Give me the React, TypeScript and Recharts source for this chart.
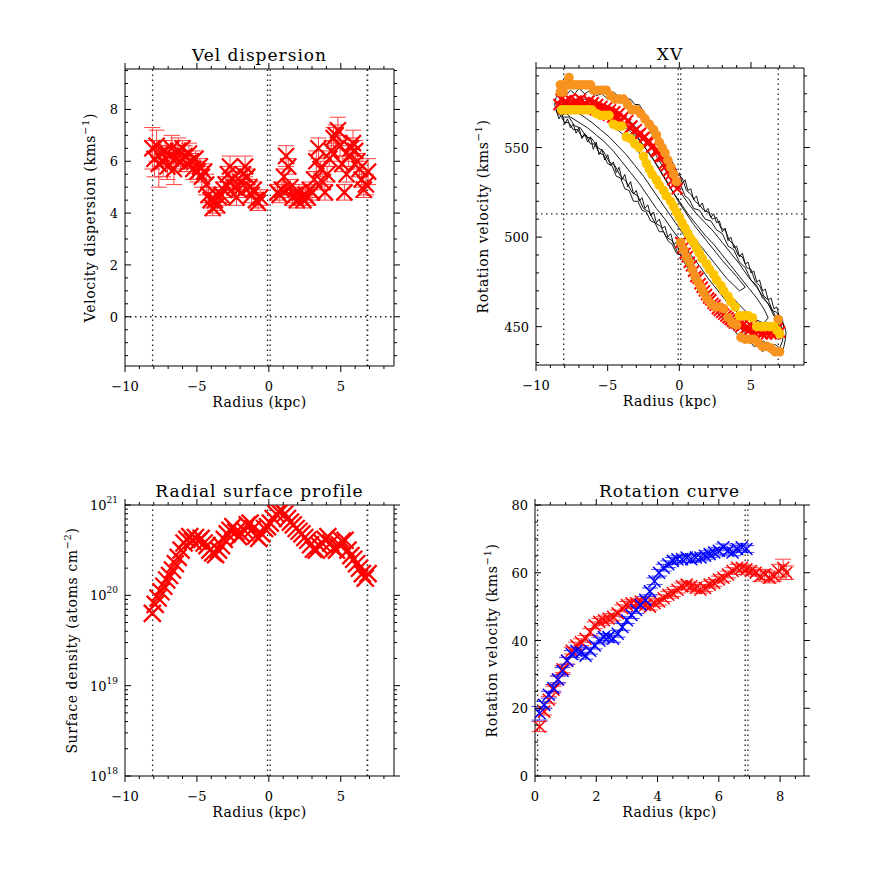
import React from 'react'
import { ScatterChart, Scatter, XAxis, YAxis, ReferenceLine, ErrorBar } from 'recharts'

const SERIF = '"DejaVu Serif", "Liberation Serif", serif'
const RED = '#ff0000'
const BLUE = '#0000ff'
const ORANGE = '#f7931e'
const YELLOW = '#ffc400'

// space around each plot box for axes / labels
const LW = 100
const RW = 30
const TH = 45
const BH = 60

// ---------- Vel dispersion ----------
const dispRadius = [
  -8.1, -7.95, -7.8, -7.65, -7.5, -7.35, -7.2, -7.05, -6.9, -6.75, -6.6, -6.45, -6.3, -6.15, -6.0, -5.85, -5.7,
  -5.55, -5.4, -5.25, -5.1, -4.95, -4.8, -4.65, -4.5, -4.35, -4.2, -4.05, -3.9, -3.75, -3.6, -3.45, -3.3, -3.15,
  -3.0, -2.85, -2.7, -2.55, -2.4, -2.25, -2.1, -1.95, -1.8, -1.65, -1.5, -1.35, -1.2, -1.05, -0.9, -0.75, -0.6,
  0.6, 0.75, 0.9, 1.05, 1.2, 1.35, 1.5, 1.65, 1.8, 1.95, 2.1, 2.25, 2.4, 2.55, 2.7, 2.85, 3.0, 3.15, 3.3, 3.45,
  3.6, 3.75, 3.9, 4.05, 4.2, 4.35, 4.5, 4.65, 4.8, 4.95, 5.1, 5.25, 5.4, 5.55, 5.7, 5.85, 6.0, 6.15, 6.3, 6.45,
  6.6, 6.75, 6.9,
]
const dispValue = [
  6.5, 6.1, 6.6, 5.9, 6.3, 6.0, 6.4, 5.8, 6.2, 6.5, 5.7, 6.1, 6.4, 6.0, 6.5, 6.2, 5.9, 6.3, 6.0, 5.7, 6.1, 5.6,
  5.8, 5.4, 5.6, 5.1, 4.7, 4.5, 4.2, 4.5, 4.3, 4.6, 4.7, 4.9, 5.1, 5.5, 5.8, 5.3, 5.0, 4.6, 4.9, 5.2, 5.5, 5.8,
  5.4, 5.0, 4.7, 4.9, 4.5, 4.4, 4.6,
  4.8, 4.7, 4.9, 5.4, 6.2, 5.8, 5.0, 4.6, 4.7, 4.5, 4.8, 4.6, 4.5, 4.7, 4.6, 4.9, 4.8, 5.3, 6.0, 6.5, 5.7, 5.2,
  4.8, 5.5, 6.1, 6.4, 6.9, 7.0, 7.2, 6.6, 5.9, 4.8, 5.5, 6.2, 6.5, 6.7, 6.4, 6.0, 5.7, 5.3, 4.9, 5.1, 5.6,
]
const dispErr = [
  0.8, 0.7, 0.6, 0.9, 0.5, 0.6, 0.4, 0.5, 0.4, 0.5, 0.6, 0.4, 0.5, 0.4, 0.3, 0.4, 0.3, 0.4, 0.3, 0.4, 0.3, 0.4,
  0.3, 0.4, 0.3, 0.4, 0.3, 0.3, 0.3, 0.4, 0.3, 0.3, 0.3, 0.3, 0.3, 0.3, 0.4, 0.3, 0.3, 0.3, 0.3, 0.3, 0.3, 0.4,
  0.3, 0.3, 0.3, 0.3, 0.3, 0.3, 0.3,
  0.3, 0.3, 0.3, 0.3, 0.4, 0.3, 0.3, 0.3, 0.3, 0.3, 0.3, 0.3, 0.3, 0.3, 0.3, 0.3, 0.3, 0.3, 0.4, 0.4, 0.3, 0.3,
  0.3, 0.3, 0.3, 0.4, 0.4, 0.4, 0.5, 0.4, 0.3, 0.3, 0.3, 0.4, 0.4, 0.5, 0.4, 0.3, 0.3, 0.3, 0.3, 0.4, 0.5,
]

// ---------- XV diagram ----------
const xvRedRadius = [
  -8.4, -8.25, -8.1, -7.95, -7.8, -7.65, -7.5, -7.35, -7.2, -7.05, -6.9, -6.75, -6.6, -6.45, -6.3, -6.15, -6.0,
  -5.85, -5.7, -5.55, -5.4, -5.25, -5.1, -4.95, -4.8, -4.65, -4.5, -4.35, -4.2, -4.05, -3.9, -3.75, -3.6, -3.45,
  -3.3, -3.15, -3.0, -2.85, -2.7, -2.55, -2.4, -2.25, -2.1, -1.95, -1.8, -1.65, -1.5, -1.35, -1.2, -1.05, -0.9,
  -0.75, -0.6, -0.45, -0.3, -0.15,
  0.1, 0.25, 0.4, 0.55, 0.7, 0.85, 1.0, 1.15, 1.3, 1.45, 1.6, 1.75, 1.9, 2.05, 2.2, 2.35, 2.5, 2.65, 2.8, 2.95,
  3.1, 3.25, 3.4, 3.55, 3.7, 3.85, 4.0, 4.15, 4.3, 4.45, 4.6, 4.75, 4.9, 5.05, 5.2, 5.35, 5.5, 5.65, 5.8, 5.95,
  6.1, 6.25, 6.4, 6.55, 6.7, 6.85, 7.0,
]
const xvRedVel = [
  574, 577, 572, 576, 573, 577, 574, 572, 576, 574, 577, 573, 575, 572, 576, 573, 575, 571, 574, 571, 573, 569,
  572, 568, 571, 567, 570, 566, 569, 565, 567, 563, 565, 561, 562, 559, 560, 557, 558, 555, 556, 553, 553, 550,
  551, 548, 548, 545, 545, 541, 540, 537, 535, 532, 530, 527,
  497, 494, 491, 489, 486, 484, 481, 478, 477, 474, 472, 470, 468, 466, 465, 463, 462, 460, 459, 458, 457, 456,
  455, 454, 453, 452, 452, 451, 450, 451, 449, 450, 448, 450, 447, 449, 447, 449, 446, 448, 446, 448, 446, 448,
  446, 449, 447,
]
const xvOrange: [number, number][] = [
  [-7.7, 589], [-8.3, 585], [-8.0, 585], [-7.7, 585], [-7.4, 585], [-7.1, 585], [-6.8, 585], [-6.5, 585],
  [-6.2, 585], [-8.3, 581], [-8.1, 581], [-6.0, 582], [-5.7, 582], [-5.4, 582], [-5.1, 582], [-4.8, 579],
  [-4.5, 577], [-4.2, 577], [-3.9, 577], [-3.6, 574], [-3.3, 571], [-3.0, 571], [-2.7, 569], [-2.4, 566],
  [-2.1, 563], [-1.8, 560], [-1.6, 557], [-1.4, 553], [-1.2, 550], [-1.0, 547], [-0.8, 543], [-0.6, 539],
  [-0.4, 535], [-0.2, 531],
  [0.1, 497], [0.3, 493], [0.5, 489], [0.7, 486], [0.9, 482], [1.1, 478], [1.3, 475], [1.5, 472], [1.7, 469],
  [1.9, 466], [2.2, 463], [2.5, 461], [2.8, 461], [3.1, 460], [3.4, 455], [3.7, 452], [4.0, 451], [4.3, 444],
  [4.6, 443], [4.9, 443], [5.2, 443], [5.5, 441], [5.8, 439], [6.1, 439], [6.4, 438], [6.7, 436], [7.0, 436],
  [6.9, 454],
]
const xvYellow: [number, number][] = [
  [-8.2, 571], [-7.9, 571], [-7.6, 571], [-7.3, 571], [-7.0, 571], [-6.7, 571], [-6.4, 571], [-6.1, 571],
  [-5.8, 569], [-5.5, 568], [-5.2, 568], [-4.9, 568], [-4.6, 563], [-4.3, 562], [-4.0, 562], [-3.7, 556],
  [-3.4, 555], [-3.1, 552], [-2.8, 550], [-2.5, 545], [-2.3, 541], [-2.1, 538], [-1.9, 535], [-1.6, 532],
  [-1.4, 529], [-1.1, 526], [-0.9, 523], [-0.6, 520], [-0.4, 517], [-0.2, 514], [0.0, 511], [0.2, 508],
  [0.4, 505], [0.6, 502], [0.8, 499], [1.0, 497], [1.2, 494], [1.4, 491], [1.6, 488], [1.9, 485], [2.1, 482],
  [2.4, 479], [2.6, 476], [2.9, 473], [3.1, 470], [3.4, 467], [3.6, 464], [3.9, 461], [4.2, 456], [4.5, 456],
  [4.8, 456], [5.1, 455], [5.4, 450], [5.7, 450], [6.0, 450], [6.3, 450], [6.6, 450], [6.8, 448], [7.0, 446],
]
const contourA: [number, number][] = [
  [-8.7, 574], [-8.6, 578], [-8.4, 580], [-8.2, 582], [-8.0, 583], [-7.8, 586], [-7.6, 584], [-7.4, 587],
  [-7.2, 585], [-7.0, 586], [-6.7, 583], [-6.4, 585], [-6.1, 582], [-5.8, 584], [-5.5, 581], [-5.2, 583],
  [-4.9, 580], [-4.6, 581], [-4.3, 579], [-4.0, 579], [-3.7, 577], [-3.4, 577], [-3.1, 574], [-2.8, 574],
  [-2.5, 570], [-2.2, 567], [-1.9, 561], [-1.6, 560], [-1.3, 553], [-1.0, 551], [-0.7, 544], [-0.4, 541],
  [-0.1, 535], [0.2, 533], [0.5, 526], [0.8, 524], [1.1, 520], [1.4, 518], [1.7, 515], [2.0, 514], [2.3, 510],
  [2.6, 511], [2.9, 505], [3.2, 504], [3.5, 498], [3.8, 496], [4.1, 490], [4.4, 489], [4.7, 483], [5.0, 482],
  [5.3, 475], [5.6, 473], [5.9, 467], [6.2, 465], [6.5, 459], [6.8, 458], [7.1, 453], [7.3, 451], [7.45, 447],
  [7.4, 443], [7.3, 439], [7.2, 436], [7.0, 434], [6.7, 437], [6.4, 435], [6.1, 438], [5.8, 436], [5.5, 439],
  [5.2, 439], [4.9, 442], [4.6, 442], [4.3, 445], [4.0, 446], [3.7, 450], [3.4, 450], [3.1, 455], [2.8, 456],
  [2.5, 461], [2.2, 461], [1.9, 467], [1.6, 468], [1.3, 474], [1.0, 476], [0.7, 482], [0.4, 485], [0.1, 490],
  [-0.2, 491], [-0.5, 496], [-0.8, 498], [-1.1, 503], [-1.4, 503], [-1.7, 508], [-2.0, 509], [-2.3, 514],
  [-2.6, 515], [-2.9, 520], [-3.2, 520], [-3.5, 526], [-3.8, 527], [-4.1, 533], [-4.4, 534], [-4.7, 540],
  [-5.0, 541], [-5.3, 546], [-5.6, 547], [-5.9, 552], [-6.2, 552], [-6.5, 557], [-6.8, 556], [-7.1, 560],
  [-7.4, 560], [-7.7, 564], [-8.0, 564], [-8.3, 568], [-8.5, 569], [-8.7, 574],
]
const contourB: [number, number][] = [
  [-8.5, 573], [-8.2, 578], [-7.9, 579], [-7.6, 582], [-7.3, 580], [-7.0, 583], [-6.6, 580], [-6.2, 582],
  [-5.8, 579], [-5.4, 580], [-5.0, 577], [-4.6, 578], [-4.2, 575], [-3.8, 575], [-3.4, 571], [-3.0, 571],
  [-2.6, 566], [-2.3, 564], [-2.0, 558], [-1.7, 556], [-1.4, 549], [-1.1, 547], [-0.8, 540], [-0.5, 538],
  [-0.2, 531], [0.1, 529], [0.4, 523], [0.7, 521], [1.0, 516], [1.4, 515], [1.8, 510], [2.2, 509], [2.6, 504],
  [3.0, 502], [3.4, 495], [3.8, 493], [4.2, 486], [4.6, 483], [5.0, 476], [5.4, 473], [5.8, 466], [6.2, 463],
  [6.6, 456], [7.0, 453], [7.25, 447], [7.2, 442], [7.0, 438], [6.7, 440], [6.3, 439], [5.9, 442], [5.5, 441],
  [5.1, 445], [4.7, 445], [4.3, 449], [3.9, 450], [3.5, 455], [3.1, 456], [2.7, 462], [2.3, 464], [1.9, 470],
  [1.5, 472], [1.1, 479], [0.7, 482], [0.3, 489], [-0.1, 491], [-0.5, 498], [-0.9, 500], [-1.3, 506],
  [-1.7, 508], [-2.1, 514], [-2.5, 516], [-2.9, 523], [-3.3, 525], [-3.7, 531], [-4.1, 534], [-4.5, 540],
  [-4.9, 542], [-5.3, 548], [-5.7, 550], [-6.1, 555], [-6.5, 556], [-6.9, 561], [-7.3, 562], [-7.7, 567],
  [-8.1, 567], [-8.5, 573],
]
const contourC: [number, number][] = [
  [-8.3, 572], [-7.8, 576], [-7.2, 577], [-6.5, 577], [-5.8, 575], [-5.0, 573], [-4.3, 570], [-3.6, 566],
  [-3.0, 561], [-2.4, 555], [-1.8, 548], [-1.2, 540], [-0.6, 533], [0.0, 526], [0.6, 519], [1.2, 513],
  [1.8, 508], [2.4, 503], [3.0, 497], [3.6, 491], [4.2, 485], [4.8, 478], [5.4, 472], [6.0, 465], [6.5, 459],
  [6.9, 453], [7.0, 448], [6.7, 445], [6.2, 446], [5.6, 448], [5.0, 451], [4.4, 455], [3.8, 460], [3.2, 465],
  [2.6, 471], [2.0, 477], [1.4, 484], [0.8, 490], [0.2, 497], [-0.4, 503], [-1.0, 510], [-1.6, 516],
  [-2.2, 523], [-2.8, 530], [-3.4, 536], [-4.0, 542], [-4.6, 548], [-5.2, 553], [-5.8, 557], [-6.4, 561],
  [-7.0, 564], [-7.6, 567], [-8.3, 572],
]
const contourD: [number, number][] = [
  [-7.6, 572], [-6.8, 573], [-6.0, 572], [-5.2, 570], [-4.4, 567], [-3.7, 563], [-3.0, 557], [-2.4, 550],
  [-1.8, 543], [-1.2, 535], [-0.6, 527], [0.0, 520], [0.6, 513], [1.2, 507], [1.8, 501], [2.4, 496],
  [3.0, 490], [3.6, 484], [4.2, 478], [4.8, 472], [5.4, 466], [5.9, 460], [6.2, 455], [5.9, 452], [5.3, 454],
  [4.7, 458], [4.1, 463], [3.5, 468], [2.9, 474], [2.3, 480], [1.7, 486], [1.1, 492], [0.5, 499], [-0.1, 506],
  [-0.7, 513], [-1.3, 520], [-1.9, 527], [-2.5, 534], [-3.1, 540], [-3.7, 546], [-4.3, 551], [-4.9, 556],
  [-5.5, 560], [-6.1, 564], [-6.8, 568], [-7.6, 572],
]
const contourE: [number, number][] = [
  [-5.0, 566], [-4.0, 563], [-3.0, 556], [-2.0, 546], [-1.0, 533], [0.0, 519], [1.0, 507], [2.0, 497],
  [3.0, 487], [4.0, 478], [4.6, 472], [4.2, 470], [3.3, 477], [2.4, 486], [1.4, 496], [0.4, 507], [-0.6, 520],
  [-1.6, 533], [-2.6, 545], [-3.6, 555], [-4.6, 562], [-5.0, 566],
]
// noisy outer edges (lower-left and upper-right)
const edgeLow: [number, number][] = [
  [-8.6, 571], [-8.4, 566], [-8.2, 569], [-8.0, 563], [-7.8, 566], [-7.6, 561], [-7.4, 563], [-7.2, 558],
  [-7.0, 561], [-6.8, 555], [-6.6, 558], [-6.4, 553], [-6.2, 556], [-6.0, 549], [-5.8, 553], [-5.6, 546],
  [-5.4, 549], [-5.2, 543], [-5.0, 546], [-4.8, 540], [-4.6, 542], [-4.4, 536], [-4.2, 539], [-4.0, 532],
  [-3.8, 535], [-3.6, 528], [-3.4, 531], [-3.2, 524], [-3.0, 526], [-2.8, 520], [-2.6, 522], [-2.4, 516],
  [-2.2, 518], [-2.0, 512], [-1.8, 514], [-1.6, 508], [-1.4, 510], [-1.2, 505], [-1.0, 506], [-0.8, 500],
  [-0.6, 502], [-0.4, 496], [-0.2, 497], [0.0, 492],
]
const edgeHigh: [number, number][] = [
  [0.0, 536], [0.2, 530], [0.4, 532], [0.6, 526], [0.8, 527], [1.0, 521], [1.2, 523], [1.4, 517], [1.6, 519],
  [1.8, 514], [2.0, 516], [2.2, 511], [2.4, 513], [2.6, 508], [2.8, 509], [3.0, 503], [3.2, 505], [3.4, 498],
  [3.6, 500], [3.8, 494], [4.0, 495], [4.2, 489], [4.4, 491], [4.6, 485], [4.8, 486], [5.0, 480], [5.2, 481],
  [5.4, 475], [5.6, 476], [5.8, 470], [6.0, 471], [6.2, 465], [6.4, 466], [6.6, 460], [6.8, 461], [7.0, 455],
  [7.2, 454], [7.3, 449],
]

// ---------- Radial surface profile (log10 atoms cm^-2) ----------
const profRadius = [
  -8.1, -7.9, -7.7, -7.5, -7.3, -7.1, -6.9, -6.7, -6.5, -6.3, -6.1, -5.9, -5.7, -5.5, -5.3, -5.1, -4.9, -4.7,
  -4.5, -4.3, -4.1, -3.9, -3.7, -3.5, -3.3, -3.1, -2.9, -2.7, -2.5, -2.3, -2.1, -1.9, -1.7, -1.5, -1.3, -1.1,
  -0.9, -0.7, -0.5, -0.3, -0.1, 0.1, 0.3, 0.5, 0.7, 0.9, 1.1, 1.3, 1.5, 1.7, 1.9, 2.1, 2.3, 2.5, 2.7, 2.9, 3.1,
  3.3, 3.5, 3.7, 3.9, 4.1, 4.3, 4.5, 4.7, 4.9, 5.1, 5.3, 5.5, 5.7, 5.9, 6.1, 6.3, 6.5, 6.7, 6.9,
]
const profLogDens = [
  19.8, 19.9, 19.97, 20.04, 20.1, 20.17, 20.22, 20.28, 20.35, 20.42, 20.5, 20.58, 20.62, 20.65, 20.6, 20.64,
  20.6, 20.63, 20.58, 20.55, 20.5, 20.47, 20.45, 20.5, 20.55, 20.62, 20.68, 20.72, 20.76, 20.7, 20.65, 20.68,
  20.72, 20.78, 20.8, 20.74, 20.66, 20.63, 20.68, 20.74, 20.76, 20.8, 20.85, 20.9, 20.92, 20.94, 20.9, 20.85,
  20.81, 20.78, 20.74, 20.71, 20.68, 20.64, 20.61, 20.56, 20.51, 20.5, 20.55, 20.58, 20.62, 20.65, 20.58,
  20.52, 20.5, 20.56, 20.6, 20.61, 20.5, 20.44, 20.4, 20.35, 20.3, 20.24, 20.19, 20.24,
]

// ---------- Rotation curve ----------
const rcRedRadius = [
  0.15, 0.3, 0.45, 0.6, 0.75, 0.9, 1.05, 1.2, 1.35, 1.5, 1.65, 1.8, 1.95, 2.1, 2.25, 2.4, 2.55, 2.7, 2.85, 3.0,
  3.15, 3.3, 3.45, 3.6, 3.75, 3.9, 4.05, 4.2, 4.35, 4.5, 4.65, 4.8, 4.95, 5.1, 5.25, 5.4, 5.55, 5.7, 5.85, 6.0,
  6.15, 6.3, 6.45, 6.6, 6.75, 6.9, 7.05, 7.2, 7.35, 7.5, 7.65, 7.8, 7.95, 8.1, 8.2,
]
const rcRedVel = [
  14.6, 19.0, 22.5, 25.5, 28.5, 31.5, 34.0, 37.0, 38.5, 39.5, 40.5, 42.5, 44.5, 45.5, 46.0, 46.5, 47.0, 48.0,
  49.5, 50.5, 51.0, 51.0, 51.5, 50.5, 50.0, 51.0, 51.5, 52.5, 53.5, 54.0, 55.0, 56.0, 56.5, 56.0, 55.5, 55.0,
  55.5, 56.5, 57.0, 58.0, 58.5, 59.5, 60.5, 61.5, 61.5, 61.0, 60.5, 60.0, 59.0, 59.5, 58.5, 59.0, 60.5, 61.5,
  60.0,
]
const rcRedErr = [
  1.5, 1.0, 1.0, 1.0, 1.0, 1.0, 1.0, 1.0, 1.0, 1.0, 1.0, 1.0, 1.0, 1.0, 1.0, 1.0, 1.0, 1.0, 1.0, 1.0, 1.0, 1.0,
  1.0, 1.0, 1.0, 1.0, 1.0, 1.0, 1.0, 1.0, 1.0, 1.0, 1.0, 1.0, 1.0, 1.0, 1.0, 1.0, 1.0, 1.0, 1.0, 1.0, 1.0, 1.0,
  1.0, 1.0, 1.0, 1.0, 1.5, 1.5, 1.5, 1.5, 2.0, 2.5, 2.0,
]
const rcBlueRadius = [
  0.15, 0.3, 0.45, 0.6, 0.75, 0.9, 1.05, 1.2, 1.35, 1.5, 1.65, 1.8, 1.95, 2.1, 2.25, 2.4, 2.55, 2.7, 2.85, 3.0,
  3.15, 3.3, 3.45, 3.6, 3.75, 3.9, 4.05, 4.2, 4.35, 4.5, 4.65, 4.8, 4.95, 5.1, 5.25, 5.4, 5.55, 5.7, 5.85, 6.0,
  6.15, 6.3, 6.45, 6.6, 6.75, 6.9,
]
const rcBlueVel = [
  18.5, 21.0, 24.0, 26.0, 28.5, 31.0, 34.0, 36.0, 37.0, 36.5, 35.5, 37.0, 38.5, 40.0, 41.0, 41.0, 40.5, 42.0,
  44.0, 46.0, 47.5, 49.0, 50.5, 52.0, 54.5, 57.5, 60.0, 61.5, 62.5, 63.5, 64.0, 64.0, 64.5, 64.0, 64.5, 64.5,
  65.0, 65.5, 66.0, 66.5, 67.5, 66.5, 66.0, 67.0, 67.5, 67.0,
]
const rcBlueErr = [
  2.0, 1.0, 1.0, 1.0, 1.0, 1.0, 1.0, 1.0, 1.0, 1.0, 1.0, 1.0, 1.0, 1.0, 1.0, 1.0, 1.0, 1.0, 1.0, 1.0, 1.0, 1.0,
  1.0, 1.0, 1.0, 1.0, 1.0, 1.0, 1.0, 1.0, 1.0, 1.0, 1.0, 1.0, 1.0, 1.0, 1.0, 1.0, 1.0, 1.0, 1.0, 1.0, 1.0, 1.0,
  1.0, 1.0,
]

// ---------- ticks ----------
const radiusMajor = [-10, -5, 0, 5]
const radiusMinor = [-10, -9, -8, -7, -6, -5, -4, -3, -2, -1, 0, 1, 2, 3, 4, 5, 6, 7, 8]
const dispMajor = [0, 2, 4, 6, 8]
const dispMinor = [-1.5, -1, -0.5, 0, 0.5, 1, 1.5, 2, 2.5, 3, 3.5, 4, 4.5, 5, 5.5, 6, 6.5, 7, 7.5, 8, 8.5, 9, 9.5]
const xvMajor = [450, 500, 550]
const xvMinor = [430, 440, 450, 460, 470, 480, 490, 500, 510, 520, 530, 540, 550, 560, 570, 580, 590]
const densMajor = [1e18, 1e19, 1e20, 1e21]
const densMinor = [
  1e18, 2e18, 3e18, 4e18, 5e18, 6e18, 7e18, 8e18, 9e18, 1e19, 2e19, 3e19, 4e19, 5e19, 6e19, 7e19, 8e19, 9e19,
  1e20, 2e20, 3e20, 4e20, 5e20, 6e20, 7e20, 8e20, 9e20, 1e21,
]
const rcXMajor = [0, 2, 4, 6, 8]
const rcXMinor = [0, 0.5, 1, 1.5, 2, 2.5, 3, 3.5, 4, 4.5, 5, 5.5, 6, 6.5, 7, 7.5, 8, 8.5]
const rcYMajor = [0, 20, 40, 60, 80]
const rcYMinor = [0, 5, 10, 15, 20, 25, 30, 35, 40, 45, 50, 55, 60, 65, 70, 75, 80]

// ---------- tables ----------
const dispData = dispRadius.map((x, i) => ({ x, y: dispValue[i], err: dispErr[i] }))
const xvRedData = xvRedRadius.map((x, i) => ({ x, y: xvRedVel[i] }))
const pairs = (a: [number, number][]) => a.map(([x, y]) => ({ x, y }))
const profData = profRadius.map((x, i) => ({ x, y: Math.pow(10, profLogDens[i]) }))
const rcRedData = rcRedRadius.map((x, i) => ({ x, y: rcRedVel[i], err: rcRedErr[i] }))
const rcBlueData = rcBlueRadius.map((x, i) => ({ x, y: rcBlueVel[i], err: rcBlueErr[i] }))

type Box = { x0: number; y0: number; x1: number; y1: number }
const P1: Box = { x0: 125, y0: 69, x1: 394, y1: 366 }
const P2: Box = { x0: 536, y0: 68, x1: 804, y1: 365 }
const P3: Box = { x0: 125, y0: 505, x1: 394, y1: 776 }
const P4: Box = { x0: 535, y0: 505, x1: 804, y1: 776 }

const fmtNum = (v: number) => (v < 0 ? '\u2212' + Math.abs(v) : String(v))
const fmtPow = (v: number) => (
  <>
    10<tspan dy={-7} fontSize={9}>{Math.round(Math.log10(v))}</tspan>
  </>
)

function makeTick(side: string, majors: number[], fmt?: (v: number) => React.ReactNode) {
  return (props: any) => {
    const { x, y, payload } = props
    const v = payload.value
    const major = majors.some((m) => Math.abs(m - v) <= 1e-6 * Math.max(1, Math.abs(m)))
    const len = major ? 6 : 3
    const lbl = major && fmt ? fmt(v) : null
    const common = { fontFamily: SERIF, fontSize: 13, fill: '#000' }
    if (side === 'bottom')
      return (
        <g>
          <line x1={x} y1={y} x2={x} y2={y + len} stroke="#000" />
          {lbl != null && (
            <text x={x} y={y + 25} textAnchor="middle" {...common}>
              {lbl}
            </text>
          )}
        </g>
      )
    if (side === 'top') return <line x1={x} y1={y} x2={x} y2={y - len} stroke="#000" />
    if (side === 'left')
      return (
        <g>
          <line x1={x} y1={y} x2={x + len} y2={y} stroke="#000" />
          {lbl != null && (
            <text x={x - 7} y={y + 5} textAnchor="end" {...common}>
              {lbl}
            </text>
          )}
        </g>
      )
    return <line x1={x} y1={y} x2={x + len} y2={y} stroke="#000" />
  }
}

type FrameOpts = {
  box: Box
  xDomain: [number, number]
  yDomain: [number, number]
  xMajor: number[]
  xMinor: number[]
  yMajor: number[]
  yMinor: number[]
  yFmt: (v: number) => React.ReactNode
  title: string
  yText: string
  ySup: string
  yOff: number
  log?: boolean
}

function frameAxes(o: FrameOpts) {
  const W = o.box.x1 - o.box.x0
  const H = o.box.y1 - o.box.y0
  const scale = o.log ? 'log' : 'linear'
  const axisLine = { stroke: '#000', strokeWidth: 1 }
  const base = { type: 'number' as const, allowDataOverflow: true, interval: 0 as const, tickSize: 0, tickMargin: 0, tickLine: false, axisLine }
  const cx = LW + W / 2
  const ly = TH + H / 2
  const lx = LW - o.yOff
  return [
    <XAxis
      key="xb"
      xAxisId="b"
      orientation="bottom"
      dataKey="x"
      domain={o.xDomain}
      ticks={o.xMinor}
      height={BH}
      tick={makeTick('bottom', o.xMajor, fmtNum)}
      label={() => (
        <text x={cx} y={TH + H + 41} textAnchor="middle" fontFamily={SERIF} fontSize={14} letterSpacing={0.4} fill="#000">
          Radius (kpc)
        </text>
      )}
      {...base}
    />,
    <XAxis
      key="xt"
      xAxisId="t"
      orientation="top"
      dataKey="x"
      domain={o.xDomain}
      ticks={o.xMinor}
      height={TH}
      tick={makeTick('top', o.xMajor)}
      label={() => (
        <text x={cx} y={TH - 8} textAnchor="middle" fontFamily={SERIF} fontSize={17} letterSpacing={1} fill="#000">
          {o.title}
        </text>
      )}
      {...base}
    />,
    <YAxis
      key="yl"
      yAxisId="l"
      orientation="left"
      dataKey="y"
      scale={scale}
      domain={o.yDomain}
      ticks={o.yMinor}
      width={LW}
      tick={makeTick('left', o.yMajor, o.yFmt)}
      label={() => (
        <text
          x={lx}
          y={ly}
          transform={`rotate(-90 ${lx} ${ly})`}
          textAnchor="middle"
          fontFamily={SERIF}
          fontSize={14}
          letterSpacing={0.6}
          fill="#000"
        >
          {o.yText}
          <tspan dy={-6} fontSize={10}>
            {o.ySup}
          </tspan>
          <tspan dy={6}>)</tspan>
        </text>
      )}
      {...base}
    />,
    <YAxis
      key="yr"
      yAxisId="r"
      orientation="right"
      dataKey="y"
      scale={scale}
      domain={o.yDomain}
      ticks={o.yMinor}
      width={RW}
      tick={makeTick('right', o.yMajor)}
      {...base}
    />,
  ]
}

const hidden = () => <g />
function cross(h: number, color: string, sw: number) {
  return (p: any) => {
    const { cx, cy } = p
    if (cx == null || cy == null) return <g />
    return (
      <path
        d={`M${cx - h},${cy - h}L${cx + h},${cy + h}M${cx - h},${cy + h}L${cx + h},${cy - h}`}
        stroke={color}
        strokeWidth={sw}
        fill="none"
      />
    )
  }
}
function dot(r: number, color: string) {
  return (p: any) => <circle cx={p.cx} cy={p.cy} r={r} fill={color} />
}

const dotted = { stroke: '#222', strokeWidth: 1.3, strokeDasharray: '1.5 3.5' }
const chartSize = (b: Box) => ({ width: LW + (b.x1 - b.x0) + RW, height: TH + (b.y1 - b.y0) + BH })
const place = (b: Box): React.CSSProperties => ({ position: 'absolute', left: b.x0 - LW, top: b.y0 - TH })
const noMargin = { top: 0, right: 0, bottom: 0, left: 0 }

export default function App() {
  return (
    <div style={{ position: 'absolute', left: 0, top: 0, width: 872, height: 872, background: '#fff' }}>
      {/* Vel dispersion */}
      <div style={place(P1)}>
        <ScatterChart {...chartSize(P1)} margin={noMargin}>
          {frameAxes({
            box: P1,
            xDomain: [-10, 8.7],
            yDomain: [-1.9, 9.56],
            xMajor: radiusMajor,
            xMinor: radiusMinor,
            yMajor: dispMajor,
            yMinor: dispMinor,
            yFmt: fmtNum,
            title: 'Vel dispersion',
            yText: 'Velocity dispersion (kms',
            ySup: '\u22121',
            yOff: 30,
          })}
          <ReferenceLine xAxisId="b" yAxisId="l" x={-8.08} {...dotted} />
          <ReferenceLine xAxisId="b" yAxisId="l" x={-0.09} {...dotted} />
          <ReferenceLine xAxisId="b" yAxisId="l" x={0.09} {...dotted} />
          <ReferenceLine xAxisId="b" yAxisId="l" x={6.85} {...dotted} strokeWidth={1.8} />
          <ReferenceLine xAxisId="b" yAxisId="l" y={0} {...dotted} />
          <Scatter xAxisId="b" yAxisId="l" data={dispData} shape={cross(8, RED, 2.2)} isAnimationActive={false}>
            <ErrorBar dataKey="err" direction="y" width={8} stroke="#ff4040" strokeWidth={1} />
          </Scatter>
          <Scatter xAxisId="t" yAxisId="r" data={dispData} shape={hidden} isAnimationActive={false} />
        </ScatterChart>
      </div>

      {/* XV */}
      <div style={place(P2)}>
        <ScatterChart {...chartSize(P2)} margin={noMargin}>
          {frameAxes({
            box: P2,
            xDomain: [-10, 8.7],
            yDomain: [428.6, 594.4],
            xMajor: radiusMajor,
            xMinor: radiusMinor,
            yMajor: xvMajor,
            yMinor: xvMinor,
            yFmt: fmtNum,
            title: 'XV',
            yText: 'Rotation velocity (kms',
            ySup: '\u22121',
            yOff: 48,
          })}
          <ReferenceLine xAxisId="b" yAxisId="l" x={-8.07} {...dotted} />
          <ReferenceLine xAxisId="b" yAxisId="l" x={-0.08} {...dotted} />
          <ReferenceLine xAxisId="b" yAxisId="l" x={0.1} {...dotted} />
          <ReferenceLine xAxisId="b" yAxisId="l" x={6.9} {...dotted} />
          <ReferenceLine xAxisId="b" yAxisId="l" y={513} {...dotted} />
          {[contourA, contourB, contourC, contourD, contourE, edgeLow, edgeHigh].map((c, i) => (
            <Scatter
              key={'c' + i}
              xAxisId="b"
              yAxisId="l"
              data={pairs(c)}
              line={{ stroke: '#000', strokeWidth: 0.9 }}
              lineType="joint"
              shape={hidden}
              isAnimationActive={false}
            />
          ))}
          <Scatter xAxisId="b" yAxisId="l" data={xvRedData} shape={cross(5.5, RED, 2)} isAnimationActive={false} />
          <Scatter xAxisId="b" yAxisId="l" data={pairs(xvOrange)} shape={dot(4.8, ORANGE)} isAnimationActive={false} />
          <Scatter xAxisId="b" yAxisId="l" data={pairs(xvYellow)} shape={dot(4.8, YELLOW)} isAnimationActive={false} />
          <Scatter xAxisId="t" yAxisId="r" data={xvRedData} shape={hidden} isAnimationActive={false} />
        </ScatterChart>
      </div>

      {/* Radial surface profile */}
      <div style={place(P3)}>
        <ScatterChart {...chartSize(P3)} margin={noMargin}>
          {frameAxes({
            box: P3,
            xDomain: [-10, 8.7],
            yDomain: [1e18, 1e21],
            xMajor: radiusMajor,
            xMinor: radiusMinor,
            yMajor: densMajor,
            yMinor: densMinor,
            yFmt: fmtPow,
            title: 'Radial surface profile',
            yText: 'Surface density (atoms cm',
            ySup: '\u22122',
            yOff: 48,
            log: true,
          })}
          <ReferenceLine xAxisId="b" yAxisId="l" x={-8.08} {...dotted} />
          <ReferenceLine xAxisId="b" yAxisId="l" x={-0.09} {...dotted} />
          <ReferenceLine xAxisId="b" yAxisId="l" x={0.09} {...dotted} />
          <ReferenceLine xAxisId="b" yAxisId="l" x={6.85} {...dotted} strokeWidth={1.8} />
          <Scatter xAxisId="b" yAxisId="l" data={profData} shape={cross(8.5, RED, 2.3)} isAnimationActive={false} />
          <Scatter xAxisId="t" yAxisId="r" data={profData} shape={hidden} isAnimationActive={false} />
        </ScatterChart>
      </div>

      {/* Rotation curve */}
      <div style={place(P4)}>
        <ScatterChart {...chartSize(P4)} margin={noMargin}>
          {frameAxes({
            box: P4,
            xDomain: [0, 8.78],
            yDomain: [0, 80],
            xMajor: rcXMajor,
            xMinor: rcXMinor,
            yMajor: rcYMajor,
            yMinor: rcYMinor,
            yFmt: fmtNum,
            title: 'Rotation curve',
            yText: 'Rotation velocity (kms',
            ySup: '\u22121',
            yOff: 38,
          })}
          <ReferenceLine xAxisId="b" yAxisId="l" x={0.085} {...dotted} />
          <ReferenceLine xAxisId="b" yAxisId="l" x={6.86} {...dotted} />
          <ReferenceLine xAxisId="b" yAxisId="l" x={6.95} {...dotted} />
          <Scatter xAxisId="b" yAxisId="l" data={rcRedData} shape={cross(6, RED, 1.5)} isAnimationActive={false}>
            <ErrorBar dataKey="err" direction="y" width={8} stroke="#ff4040" strokeWidth={1} />
          </Scatter>
          <Scatter xAxisId="b" yAxisId="l" data={rcBlueData} shape={cross(6, BLUE, 1.5)} isAnimationActive={false}>
            <ErrorBar dataKey="err" direction="y" width={8} stroke="#4040ff" strokeWidth={1} />
          </Scatter>
          <Scatter xAxisId="t" yAxisId="r" data={rcRedData} shape={hidden} isAnimationActive={false} />
        </ScatterChart>
      </div>
    </div>
  )
}
